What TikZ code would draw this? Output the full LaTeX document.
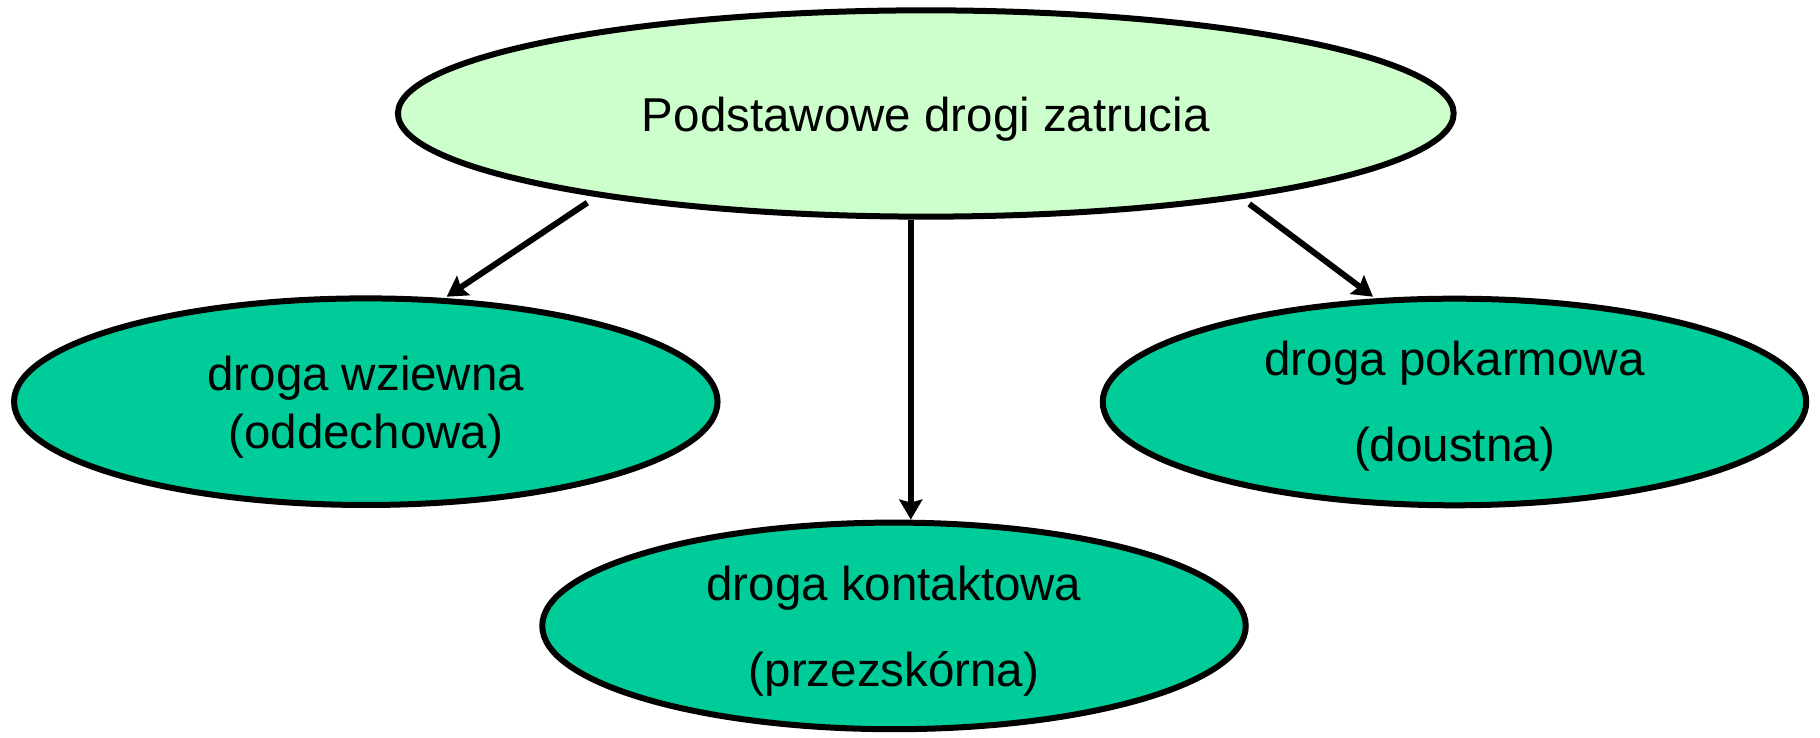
\documentclass[tikz,border=0pt]{standalone}
\usepackage{fontspec}
\setmainfont{Liberation Sans}
\usetikzlibrary{shapes.geometric,arrows.meta,calc}
\definecolor{topfill}{HTML}{CCFFCC}
\definecolor{subfill}{HTML}{00CC99}
\tikzset{
  ellbox/.style={ellipse,draw=black,line width=3pt,inner sep=0pt,align=center},
  topbox/.style={ellbox,fill=topfill,minimum width=527.85pt,minimum height=103.15pt,
    font=\fontsize{23.75}{28.8}\selectfont,text height=18.2pt,text depth=0pt},
  subbox/.style={ellbox,fill=subfill,minimum width=351.75pt,minimum height=103.3pt,text depth=0pt},
  conn/.style={line width=3pt,-{Stealth[length=10pt,width=11.5pt,inset=1.5pt]}}
}
\begin{document}
\begin{tikzpicture}[x=0.5pt,y=0.5pt]
\useasboundingbox (0,0) rectangle (1820,738);
\node[topbox] (top) at (925.8,624.5) {Podstawowe drogi zatrucia};
\node[subbox,font=\fontsize{23.75}{28.8}\selectfont,text height=46.6pt] (left) at (365.8,336.3) {droga wziewna\\(oddechowa)};
\node[subbox,font=\fontsize{23.75}{42.85}\selectfont,text height=59.7pt] (right) at (1454.5,336) {droga pokarmowa\\(doustna)};
\node[subbox,font=\fontsize{23.75}{43.3}\selectfont,text height=60.8pt] (bottom) at (894,112.1) {droga kontaktowa\\(przezskórna)};
\draw[conn] ($(top.center)+(-338.5,-89.2)$) -- ($(left.center)+(80.9,105)$);
\draw[conn] ($(top.south)+(-15,0)$) -- ($(bottom.north)+(16.8,0)$);
\draw[conn] ($(top.center)+(323.5,-90.5)$) -- ($(right.center)+(-81.5,105.3)$);
\end{tikzpicture}
\end{document}
